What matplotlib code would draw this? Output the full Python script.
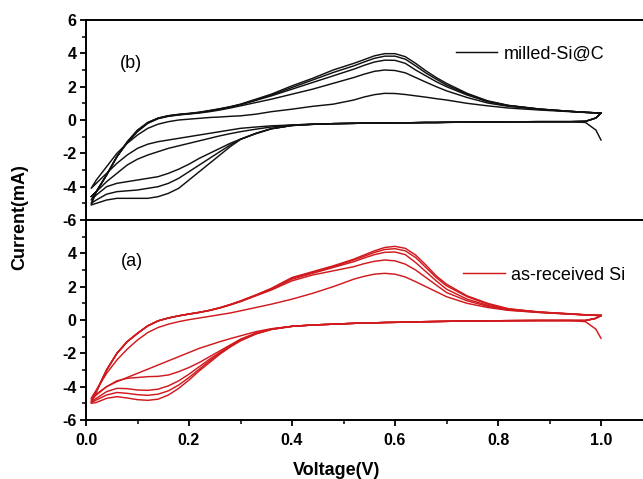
import matplotlib
matplotlib.use("Agg")
import matplotlib.pyplot as plt
from matplotlib.ticker import MultipleLocator, FixedLocator

plt.rcParams['font.family'] = ['Liberation Sans', 'DejaVu Sans']
plt.rcParams['axes.unicode_minus'] = False

# Sweep potentials (V) shared by every branch
voltage = [0.01, 0.02, 0.04, 0.06, 0.08, 0.10, 0.12, 0.14, 0.16, 0.18, 0.20,
           0.22, 0.24, 0.26, 0.28, 0.30, 0.33, 0.36, 0.40, 0.44, 0.48,
           0.52, 0.54, 0.56, 0.58, 0.60, 0.62, 0.64, 0.66, 0.68, 0.70,
           0.74, 0.78, 0.82, 0.88, 0.94, 0.97, 0.99, 1.00]

# ---- milled-Si@C : cycles 1-5 (current in mA) ----
sic_cath_1 = [-4.1, -3.8, -3.2, -2.6, -2.1, -1.7, -1.45, -1.3, -1.2, -1.1, -1.0,
              -0.9, -0.8, -0.7, -0.6, -0.5, -0.42, -0.35, -0.3, -0.25, -0.22,
              -0.2, -0.19, -0.19, -0.18, -0.17, -0.17, -0.16, -0.15, -0.15, -0.14,
              -0.13, -0.12, -0.11, -0.1, -0.1, -0.15, -0.6, -1.2]
sic_cath_2 = [-4.6, -4.3, -3.7, -3.2, -2.7, -2.35, -2.1, -1.9, -1.7, -1.55, -1.4,
              -1.25, -1.1, -0.95, -0.82, -0.7, -0.55, -0.42, -0.3, -0.25, -0.22,
              -0.2, -0.19, -0.19, -0.18, -0.17, -0.17, -0.16, -0.15, -0.15, -0.14,
              -0.13, -0.12, -0.11, -0.1, -0.1, -0.08, 0.12, 0.42]
sic_cath_3 = [-4.8, -4.5, -4.0, -3.8, -3.7, -3.6, -3.5, -3.4, -3.2, -2.95, -2.65,
              -2.3, -2.0, -1.7, -1.4, -1.15, -0.8, -0.52, -0.33, -0.26, -0.22,
              -0.2, -0.19, -0.19, -0.18, -0.17, -0.17, -0.16, -0.15, -0.15, -0.14,
              -0.13, -0.12, -0.11, -0.1, -0.1, -0.08, 0.12, 0.42]
sic_cath_4 = [-5.0, -4.8, -4.45, -4.3, -4.25, -4.2, -4.1, -4.0, -3.8, -3.5, -3.1,
              -2.7, -2.3, -1.9, -1.5, -1.15, -0.82, -0.53, -0.33, -0.26, -0.22,
              -0.2, -0.19, -0.19, -0.18, -0.17, -0.17, -0.16, -0.15, -0.15, -0.14,
              -0.13, -0.12, -0.11, -0.1, -0.1, -0.08, 0.12, 0.42]
sic_cath_5 = [-5.1, -5.0, -4.8, -4.7, -4.7, -4.7, -4.7, -4.6, -4.4, -4.1, -3.6,
              -3.1, -2.6, -2.1, -1.6, -1.17, -0.8, -0.52, -0.33, -0.26, -0.22,
              -0.2, -0.19, -0.19, -0.18, -0.17, -0.17, -0.16, -0.15, -0.15, -0.14,
              -0.13, -0.12, -0.11, -0.1, -0.1, -0.08, 0.12, 0.42]

sic_anod_1 = [-4.1, -3.6, -2.8, -2.0, -1.4, -0.9, -0.5, -0.25, -0.1, 0.0, 0.05,
              0.1, 0.15, 0.18, 0.22, 0.25, 0.35, 0.5, 0.65, 0.82, 0.95,
              1.2, 1.38, 1.52, 1.6, 1.59, 1.53, 1.45, 1.37, 1.28, 1.2,
              1.0, 0.85, 0.72, 0.6, 0.5, 0.45, 0.43, 0.42]
sic_anod_2 = [-4.6, -4.3, -3.3, -2.2, -1.35, -0.7, -0.2, 0.08, 0.22, 0.3, 0.36,
              0.42, 0.5, 0.6, 0.72, 0.85, 1.05, 1.25, 1.55, 1.85, 2.2,
              2.55, 2.75, 2.92, 3.0, 2.97, 2.83, 2.55, 2.27, 2.0, 1.75,
              1.35, 1.02, 0.82, 0.64, 0.52, 0.46, 0.43, 0.42]
sic_anod_3 = [-4.8, -4.3, -3.3, -2.2, -1.35, -0.65, -0.18, 0.1, 0.24, 0.32, 0.38,
              0.45, 0.54, 0.65, 0.78, 0.92, 1.18, 1.45, 1.85, 2.25, 2.65,
              3.05, 3.28, 3.48, 3.59, 3.58, 3.4, 3.0, 2.65, 2.3, 2.0,
              1.5, 1.1, 0.86, 0.65, 0.52, 0.46, 0.43, 0.42]
sic_anod_4 = [-5.0, -4.3, -3.3, -2.2, -1.35, -0.65, -0.15, 0.1, 0.25, 0.33, 0.38,
              0.45, 0.56, 0.66, 0.78, 0.93, 1.2, 1.5, 1.95, 2.4, 2.85,
              3.25, 3.48, 3.7, 3.83, 3.83, 3.65, 3.25, 2.82, 2.45, 2.1,
              1.55, 1.12, 0.87, 0.66, 0.52, 0.46, 0.43, 0.42]
sic_anod_5 = [-5.1, -4.3, -3.3, -2.2, -1.3, -0.6, -0.15, 0.12, 0.26, 0.34, 0.4,
              0.47, 0.57, 0.68, 0.8, 0.95, 1.25, 1.55, 2.05, 2.5, 3.0,
              3.4, 3.62, 3.85, 3.98, 3.98, 3.8, 3.4, 2.95, 2.55, 2.2,
              1.6, 1.15, 0.88, 0.66, 0.52, 0.46, 0.43, 0.42]

# ---- as-received Si : cycles 1-5 (current in mA) ----
si_cath_1 = [-4.7, -4.45, -4.0, -3.7, -3.45, -3.2, -2.95, -2.7, -2.45, -2.2, -1.95,
             -1.7, -1.5, -1.3, -1.12, -0.95, -0.7, -0.52, -0.38, -0.3, -0.25,
             -0.2, -0.18, -0.17, -0.15, -0.14, -0.13, -0.11, -0.1, -0.09, -0.08,
             -0.06, -0.05, -0.04, -0.03, -0.03, -0.1, -0.55, -1.1]
si_cath_2 = [-4.8, -4.5, -4.0, -3.65, -3.5, -3.45, -3.4, -3.38, -3.3, -3.1, -2.85,
             -2.55, -2.2, -1.85, -1.5, -1.15, -0.78, -0.55, -0.38, -0.3, -0.25,
             -0.2, -0.18, -0.17, -0.15, -0.14, -0.13, -0.11, -0.1, -0.09, -0.08,
             -0.06, -0.05, -0.04, -0.03, -0.03, -0.03, 0.1, 0.27]
si_cath_3 = [-4.9, -4.7, -4.3, -4.1, -4.12, -4.2, -4.22, -4.15, -3.95, -3.65, -3.25,
             -2.8, -2.35, -1.95, -1.55, -1.2, -0.8, -0.55, -0.38, -0.3, -0.25,
             -0.2, -0.18, -0.17, -0.15, -0.14, -0.13, -0.11, -0.1, -0.09, -0.08,
             -0.06, -0.05, -0.04, -0.03, -0.03, -0.03, 0.1, 0.27]
si_cath_4 = [-4.95, -4.8, -4.5, -4.35, -4.4, -4.48, -4.52, -4.45, -4.25, -3.9, -3.45,
             -2.95, -2.45, -2.0, -1.6, -1.22, -0.82, -0.56, -0.38, -0.3, -0.25,
             -0.2, -0.18, -0.17, -0.15, -0.14, -0.13, -0.11, -0.1, -0.09, -0.08,
             -0.06, -0.05, -0.04, -0.03, -0.03, -0.03, 0.1, 0.27]
si_cath_5 = [-5.0, -4.95, -4.7, -4.6, -4.68, -4.78, -4.82, -4.75, -4.5, -4.1, -3.6,
             -3.05, -2.55, -2.05, -1.62, -1.25, -0.84, -0.57, -0.38, -0.3, -0.25,
             -0.2, -0.18, -0.17, -0.15, -0.14, -0.13, -0.11, -0.1, -0.09, -0.08,
             -0.06, -0.05, -0.04, -0.03, -0.03, -0.03, 0.1, 0.27]

si_anod_1 = [-4.7, -4.2, -3.2, -2.4, -1.75, -1.2, -0.75, -0.45, -0.25, -0.1, 0.02,
             0.12, 0.22, 0.32, 0.42, 0.55, 0.75, 0.95, 1.25, 1.6, 2.0,
             2.45, 2.62, 2.75, 2.8, 2.75, 2.58, 2.3, 2.0, 1.7, 1.4,
             1.0, 0.75, 0.58, 0.45, 0.35, 0.3, 0.28, 0.27]
si_anod_2 = [-4.8, -4.3, -3.0, -2.0, -1.3, -0.8, -0.35, -0.05, 0.12, 0.25, 0.35,
             0.45, 0.57, 0.72, 0.9, 1.1, 1.45, 1.8, 2.35, 2.7, 2.95,
             3.2, 3.38, 3.52, 3.6, 3.55, 3.35, 3.0, 2.55, 2.1, 1.65,
             1.15, 0.82, 0.6, 0.46, 0.36, 0.31, 0.28, 0.27]
si_anod_3 = [-4.9, -4.3, -3.0, -2.0, -1.3, -0.8, -0.35, -0.05, 0.12, 0.25, 0.36,
             0.46, 0.58, 0.73, 0.92, 1.12, 1.48, 1.85, 2.45, 2.8, 3.15,
             3.5, 3.72, 3.92, 4.06, 4.08, 3.92, 3.45, 2.9, 2.35, 1.85,
             1.25, 0.88, 0.63, 0.47, 0.36, 0.31, 0.28, 0.27]
si_anod_4 = [-4.95, -4.3, -3.0, -2.0, -1.3, -0.8, -0.35, -0.05, 0.12, 0.25, 0.36,
             0.46, 0.58, 0.74, 0.92, 1.13, 1.5, 1.88, 2.5, 2.85, 3.2,
             3.6, 3.82, 4.05, 4.23, 4.28, 4.15, 3.75, 3.15, 2.55, 2.05,
             1.4, 0.95, 0.66, 0.48, 0.37, 0.31, 0.28, 0.27]
si_anod_5 = [-5.0, -4.3, -3.0, -2.0, -1.3, -0.8, -0.35, -0.05, 0.12, 0.25, 0.36,
             0.46, 0.58, 0.74, 0.93, 1.15, 1.5, 1.9, 2.55, 2.9, 3.25,
             3.65, 3.9, 4.15, 4.35, 4.42, 4.3, 3.9, 3.3, 2.65, 2.15,
             1.45, 1.0, 0.68, 0.48, 0.37, 0.31, 0.28, 0.27]

sic_cycles = [(sic_cath_1, sic_anod_1), (sic_cath_2, sic_anod_2), (sic_cath_3, sic_anod_3),
              (sic_cath_4, sic_anod_4), (sic_cath_5, sic_anod_5)]
si_cycles = [(si_cath_1, si_anod_1), (si_cath_2, si_anod_2), (si_cath_3, si_anod_3),
             (si_cath_4, si_anod_4), (si_cath_5, si_anod_5)]

BLACK = '#111111'
RED = '#d01a1e'

fig = plt.figure(figsize=(6.43, 4.79), dpi=100)
left = 86 / 643
width = (86 + 1.1 * 515) / 643 - left
ax_top = fig.add_axes([left, 1 - 220 / 479, width, 200 / 479])
ax_bot = fig.add_axes([left, 1 - 420 / 479, width, 200 / 479])


def draw_cycles(ax, cycles, color, label):
    for i, (cath, anod) in enumerate(cycles):
        # cathodic sweep 1.0 V -> 0.01 V, then anodic sweep back to 1.0 V
        v = voltage[::-1] + voltage
        cur = cath[::-1] + anod
        ax.plot(v, cur, color=color, lw=1.05, label=label if i == 0 else None,
                solid_joinstyle='round')


draw_cycles(ax_top, sic_cycles, BLACK, 'milled-Si@C')
draw_cycles(ax_bot, si_cycles, RED, 'as-received Si')

for ax in (ax_top, ax_bot):
    ax.set_xlim(0, 1.1)
    ax.set_ylim(-6, 6)
    for s in ax.spines.values():
        s.set_linewidth(1.4)
    ax.tick_params(axis='y', which='major', direction='out', length=4.5, width=1.3,
                   labelsize=11.5, pad=2.5)
    ax.tick_params(axis='y', which='minor', direction='out', length=2.6, width=1.1)

ax_top.set_yticks([-6, -4, -2, 0, 2, 4, 6])
ax_top.yaxis.set_minor_locator(MultipleLocator(1))
ax_bot.set_yticks([-6, -4, -2, 0, 2, 4])
ax_bot.yaxis.set_minor_locator(FixedLocator([-5, -3, -1, 1, 3, 5]))
for ax in (ax_top, ax_bot):
    for lbl in ax.get_yticklabels():
        lbl.set_fontweight('bold')

ax_top.tick_params(axis='x', which='both', bottom=False, labelbottom=False)
ax_bot.set_xticks([0.0, 0.2, 0.4, 0.6, 0.8, 1.0])
ax_bot.set_xticklabels(['0.0', '0.2', '0.4', '0.6', '0.8', '1.0'], fontweight='bold')
ax_bot.xaxis.set_minor_locator(FixedLocator([0.1, 0.3, 0.5, 0.7, 0.9]))
ax_bot.tick_params(axis='x', which='major', direction='out', length=4.5, width=1.3,
                   labelsize=11.5, pad=5)
ax_bot.tick_params(axis='x', which='minor', direction='out', length=2.8, width=1.1)

ax_top.text(0.087, 3.4, '(b)', fontsize=13, ha='center', va='center')
ax_bot.text(0.09, 3.5, '(a)', fontsize=13, ha='center', va='center')

for ax, anchor in ((ax_top, (0.653, 0.83)), (ax_bot, (0.6655, 0.724))):
    ax.legend(loc='center left', bbox_to_anchor=anchor, frameon=False, fontsize=13,
              handlelength=2.3, handletextpad=0.35, borderpad=0, borderaxespad=0)

fig.text(20 / 643, 1 - 217 / 479, 'Current(mA)', rotation=90, fontsize=13,
         fontweight='bold', ha='center', va='center')
fig.text(337 / 643, 1 - 462 / 479, 'Voltage(V)', fontsize=13, fontweight='bold',
         ha='center', va='top')

fig.savefig('out.png', dpi=100)
